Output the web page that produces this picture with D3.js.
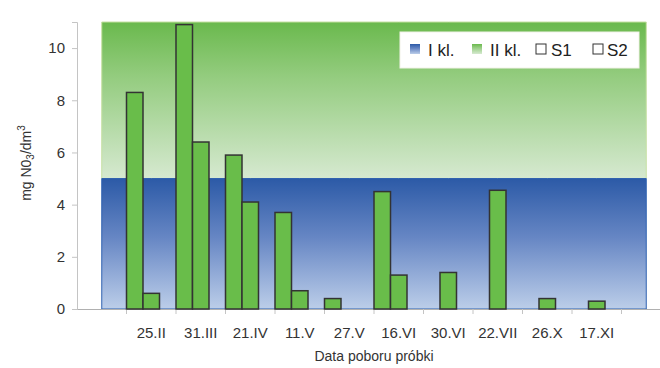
<!DOCTYPE html>
<html><head><meta charset="utf-8">
<script src="https://cdn.jsdelivr.net/npm/d3@7/dist/d3.min.js"></script>
<style>
html,body{margin:0;padding:0;background:#fff;}
svg{display:block;font-family:"Liberation Sans",Arial,sans-serif;}
</style></head>
<body>
<svg id="c" width="660" height="368"></svg>
<script>
// ---- data ----
const categories = ["25.II","31.III","21.IV","11.V","27.V","16.VI","30.VI","22.VII","26.X","17.XI"];
const s1 = [8.3, 10.9, 5.9, 3.7, 0.4, 4.5, null, null, null, null];
const s2 = [0.6, 6.4, 4.1, 0.7, null, 1.3, 1.4, 4.55, 0.4, 0.3];
// class limit bands (stacked areas), one value per slot incl. empty end slots
const iKl  = [5,5,5,5,5,5,5,5,5,5,5,5];
const iiKl = [6,6,6,6,6,6,6,6,6,6,6,6];
const yTicks = [0, 2, 4, 6, 8, 10];
const legendItems = ["I kl.", "II kl.", "S1", "S2"];

// ---- layout ----
const svg = d3.select("#c");
const slots = ["_pre", ...categories, "_post"];
const x = d3.scaleBand().domain(slots).range([77, 671]).padding(0);
const y = d3.scaleLinear().domain([0, 11]).range([309, 22]);
const bw = x.bandwidth();
const barW = bw / 3;

const defs = svg.append("defs");
const gB = defs.append("linearGradient").attr("id","gBlue").attr("x1",0).attr("y1",0).attr("x2",0).attr("y2",1);
gB.append("stop").attr("offset","0%").attr("stop-color","#2c5aa7");
gB.append("stop").attr("offset","45%").attr("stop-color","#6686c4");
gB.append("stop").attr("offset","100%").attr("stop-color","#bccee9");
const gG = defs.append("linearGradient").attr("id","gGreen").attr("x1",0).attr("y1",0).attr("x2",0).attr("y2",1);
gG.append("stop").attr("offset","0%").attr("stop-color","#6ab94d");
gG.append("stop").attr("offset","35%").attr("stop-color","#94cc7f");
gG.append("stop").attr("offset","100%").attr("stop-color","#d6e9d0");

const cx = k => x(k) + bw / 2;
const stack1 = slots.map((k,i) => ({k, y0: 0, y1: iKl[i]}));
const stack2 = slots.map((k,i) => ({k, y0: iKl[i], y1: iKl[i] + iiKl[i]}));
const area = d3.area().x(d => cx(d.k)).y0(d => y(d.y0)).y1(d => y(d.y1));

svg.append("path").datum(stack2).attr("d", area)
  .attr("fill","url(#gGreen)").attr("stroke","#c6e0a2").attr("stroke-width",1);
svg.append("path").datum(stack1).attr("d", area)
  .attr("fill","url(#gBlue)").attr("stroke","#2f62b0").attr("stroke-width",1);

// ---- axes ----
const yAxis = svg.append("g").attr("transform","translate(77,0)")
  .call(d3.axisLeft(y).tickValues(yTicks).tickSize(5).tickPadding(7).tickFormat(d3.format("d")));
yAxis.select(".domain").attr("stroke","#c4c4c4");
yAxis.selectAll(".tick line").attr("stroke","#c4c4c4");
yAxis.selectAll("text").attr("font-size",15).attr("fill","#333").style("font-family","inherit");

const xAxis = svg.append("g").attr("transform","translate(0,309)")
  .call(d3.axisBottom(x).tickSize(0).tickPadding(18)
    .tickFormat(k => k.startsWith("_") ? "" : k));
xAxis.select(".domain").attr("stroke","#b0b0b0");
xAxis.selectAll("text").attr("font-size",15).attr("fill","#333").style("font-family","inherit");
// boundary tick marks
svg.append("g").selectAll("line").data(slots.slice(1)).join("line")
  .attr("x1", k => x(k)).attr("x2", k => x(k))
  .attr("y1", 309).attr("y2", 314).attr("stroke","#c4c4c4");

// ---- bars ----
const bars = [];
categories.forEach((c,i) => {
  if (s1[i] != null) bars.push({k:c, off:0, v:s1[i]});
  if (s2[i] != null) bars.push({k:c, off:1, v:s2[i]});
});
svg.append("g").selectAll("rect").data(bars).join("rect")
  .attr("x", d => x(d.k) + d.off * barW)
  .attr("y", d => y(d.v))
  .attr("width", barW)
  .attr("height", d => y(0) - y(d.v))
  .attr("fill","#69bd4a").attr("stroke","#333").attr("stroke-width",1.5);

// ---- titles ----
svg.append("text").attr("x",374).attr("y",361).attr("text-anchor","middle")
  .attr("font-size",14).attr("fill","#333").text("Data poboru próbki");
const yt = svg.append("text").attr("transform","translate(31,163) rotate(-90)")
  .attr("text-anchor","middle").attr("font-size",14).attr("fill","#333");
yt.append("tspan").text("mg N0");
yt.append("tspan").attr("font-size",10).attr("dy",3).text("3");
yt.append("tspan").attr("dy",-3).text("/dm");
yt.append("tspan").attr("font-size",10).attr("dy",-6).text("3");

// ---- legend ----
const lg = svg.append("g");
lg.append("rect").attr("x",400).attr("y",32).attr("width",239).attr("height",36)
  .attr("fill","#fff").attr("stroke","#f2f2e8");
const lgX = [410, 472, 536, 593];
const lgDx = [18, 18, 15, 14];
const lgFill = ["url(#gBlue)","url(#gGreen)","#fff","#fff"];
const lgStroke = ["none","none","#333","#333"];
legendItems.forEach((t,i) => {
  lg.append("rect").attr("x",lgX[i]).attr("y",44).attr("width",10).attr("height",10)
    .attr("fill",lgFill[i]).attr("stroke",lgStroke[i]).attr("stroke-width",1);
  lg.append("text").attr("x",lgX[i]+lgDx[i]).attr("y",56).attr("font-size",17)
    .attr("fill","#222").text(t);
});
</script>
</body></html>
